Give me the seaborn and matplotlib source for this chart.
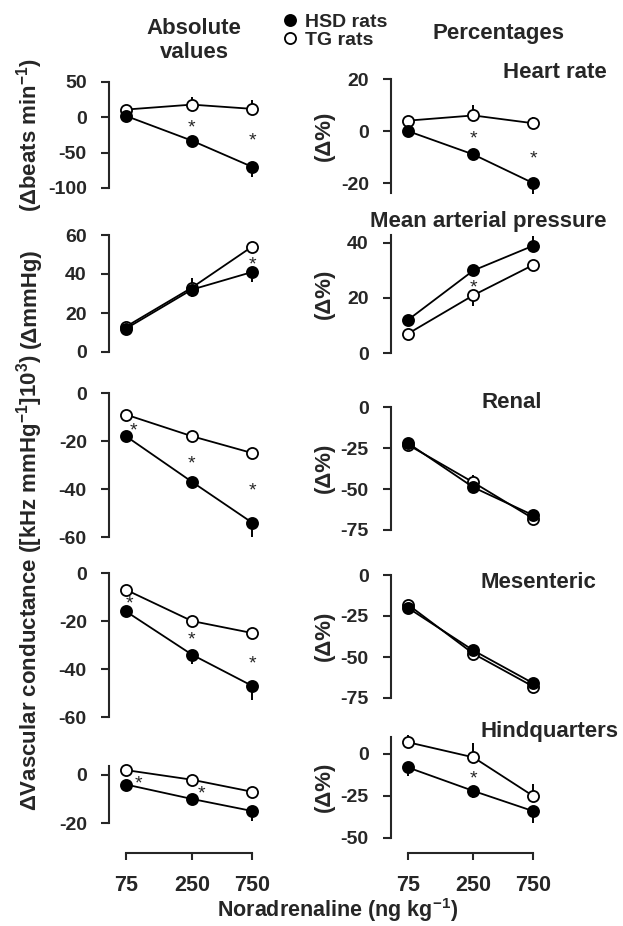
import numpy as np
import pandas as pd
import matplotlib
matplotlib.use("Agg")
import matplotlib.pyplot as plt
import matplotlib.ticker as ticker
import seaborn as sns
from matplotlib.lines import Line2D

doses = [75, 250, 750]
dose_labels = ["75", "250", "750"]

# absolute values (left column)
hr_abs_hsd = [2, -33, -70]
hr_abs_hsd_err = [0, -4, -14]
hr_abs_tg = [11, 18, 12]
hr_abs_tg_err = [0, 11, 12]
map_abs_hsd = [12, 32, 41]
map_abs_hsd_err = [0, -4, -5]
map_abs_tg = [13, 33, 54]
map_abs_tg_err = [0, 5, 0]
renal_abs_hsd = [-18, -37, -54]
renal_abs_hsd_err = [0, -2, -6]
renal_abs_tg = [-9, -18, -25]
renal_abs_tg_err = [0, 2, 0]
mes_abs_hsd = [-16, -34, -47]
mes_abs_hsd_err = [-2, -4, -6]
mes_abs_tg = [-7, -20, -25]
mes_abs_tg_err = [0, 1, 1]
hind_abs_hsd = [-4, -10, -15]
hind_abs_hsd_err = [-1, -1, -4]
hind_abs_tg = [2, -2, -7]
hind_abs_tg_err = [0, 0, 0]

# percentages (right column)
hr_pct_hsd = [0, -9, -20]
hr_pct_hsd_err = [0, 0, -4]
hr_pct_tg = [4, 6, 3]
hr_pct_tg_err = [0, 4, 2.5]
map_pct_hsd = [12, 30, 39]
map_pct_hsd_err = [0, 2, 3.5]
map_pct_tg = [7, 21, 32]
map_pct_tg_err = [0, -4, 0]
renal_pct_hsd = [-22, -49, -66]
renal_pct_hsd_err = [0, -1, 0]
renal_pct_tg = [-23, -46, -68]
renal_pct_tg_err = [0, 4.5, 0]
mes_pct_hsd = [-20, -46, -66]
mes_pct_hsd_err = [0, 0, 0]
mes_pct_tg = [-18, -48, -68]
mes_pct_tg_err = [0, 0, 0]
hind_pct_hsd = [-8, -22, -34]
hind_pct_hsd_err = [-5, -4, -7]
hind_pct_tg = [7, -2, -25]
hind_pct_tg_err = [4, 8.5, 7]

# significance stars (dose, value)
stars_hr_abs = [(250, -9), (750, -28)]
stars_map_abs = [(750, 47)]
stars_renal_abs = [(86, -14), (250, -28), (750, -39)]
stars_mes_abs = [(80, -11), (250, -26), (750, -36)]
stars_hind_abs = [(95, -2), (296, -6)]
stars_hr_pct = [(250, -1.5), (750, -9)]
stars_map_pct = [(250, 25)]
stars_hind_pct = [(250, -12.5)]

sns.set_style("ticks")
plt.rcParams["font.family"] = ["Liberation Sans", "DejaVu Sans"]
plt.rcParams["font.weight"] = "bold"
plt.rcParams["mathtext.default"] = "regular"
plt.rcParams["axes.unicode_minus"] = False

W, H = 623, 926
fig = plt.figure(figsize=(W / 100, H / 100), dpi=100)


def add_box(x0, x1, ytop, ybot):
    return fig.add_axes([x0 / W, 1 - ybot / H, (x1 - x0) / W, (ybot - ytop) / H])


def draw_panel(ax, hsd, hsd_err, tg, tg_err, stars, ylim, yticks):
    ax.set_xscale("log")
    df = pd.DataFrame({"dose": doses * 2, "value": tg + hsd,
                       "group": ["TG rats"] * 3 + ["HSD rats"] * 3})
    for grp, vals, errs, face in [("TG rats", tg, tg_err, "white"),
                                  ("HSD rats", hsd, hsd_err, "black")]:
        ax.vlines(doses, vals, np.add(vals, errs), color="k", lw=1.4,
                  clip_on=False, zorder=2)
        sns.lineplot(data=df[df.group == grp], x="dose", y="value", ax=ax,
                     color="k", marker="o", markerfacecolor=face,
                     markeredgecolor="k", markersize=8, markeredgewidth=1.3,
                     linewidth=1.3, errorbar=None, legend=False,
                     clip_on=False, zorder=3)
    for sx, sy in stars:
        # the asterisk glyph sits high in its box, nudge it down
        ax.annotate("*", (sx, sy), xytext=(0, -3), textcoords="offset points",
                    ha="center", va="center", fontsize=14, fontweight="normal")
    ax.set_xlim(xlim)
    ax.set_ylim(ylim)
    ax.set_yticks(yticks)
    ax.set_xlabel("")
    ax.set_ylabel("")
    ax.xaxis.set_visible(False)
    sns.despine(ax=ax, bottom=True)
    ax.spines["left"].set_linewidth(1.5)
    ax.tick_params(axis="y", direction="out", length=5.5, width=1.5,
                   pad=10.5, labelsize=14)
    ax.patch.set_alpha(0)


xlim = (55, 1141)
left_x = (109, 275)
right_x = (391, 556)

panels = [
    (left_x, (82, 188), hr_abs_hsd, hr_abs_hsd_err, hr_abs_tg, hr_abs_tg_err,
     stars_hr_abs, (-100, 50), [50, 0, -50, -100]),
    (left_x, (235, 352), map_abs_hsd, map_abs_hsd_err, map_abs_tg, map_abs_tg_err,
     stars_map_abs, (0, 60), [0, 20, 40, 60]),
    (left_x, (393, 537), renal_abs_hsd, renal_abs_hsd_err, renal_abs_tg,
     renal_abs_tg_err, stars_renal_abs, (-60, 0), [0, -20, -40, -60]),
    (left_x, (573, 717), mes_abs_hsd, mes_abs_hsd_err, mes_abs_tg, mes_abs_tg_err,
     stars_mes_abs, (-60, 0), [0, -20, -40, -60]),
    (left_x, (766, 823), hind_abs_hsd, hind_abs_hsd_err, hind_abs_tg,
     hind_abs_tg_err, stars_hind_abs, (-20, 3.7), [0, -20]),
    (right_x, (79, 193), hr_pct_hsd, hr_pct_hsd_err, hr_pct_tg, hr_pct_tg_err,
     stars_hr_pct, (-23.8, 20), [20, 0, -20]),
    (right_x, (235, 353), map_pct_hsd, map_pct_hsd_err, map_pct_tg,
     map_pct_tg_err, stars_map_pct, (0, 42.9), [0, 20, 40]),
    (right_x, (407, 530), renal_pct_hsd, renal_pct_hsd_err, renal_pct_tg,
     renal_pct_tg_err, [], (-75, 0), [0, -25, -50, -75]),
    (right_x, (575, 698), mes_pct_hsd, mes_pct_hsd_err, mes_pct_tg,
     mes_pct_tg_err, [], (-75, 0), [0, -25, -50, -75]),
    (right_x, (737, 838), hind_pct_hsd, hind_pct_hsd_err, hind_pct_tg,
     hind_pct_tg_err, stars_hind_pct, (-50, 10.1), [0, -25, -50]),
]

for xs, ys, hsd, hsd_err, tg, tg_err, stars, ylim, yticks in panels:
    ax = add_box(xs[0], xs[1], ys[0], ys[1])
    draw_panel(ax, hsd, hsd_err, tg, tg_err, stars, ylim, yticks)

# shared dose axes at the bottom
for xs in [left_x, right_x]:
    bx = add_box(xs[0], xs[1], 843, 853)
    bx.set_xscale("log")
    bx.set_xlim(xlim)
    bx.set_xticks(doses)
    bx.set_xticklabels(dose_labels)
    bx.xaxis.set_minor_locator(ticker.NullLocator())
    bx.set_yticks([])
    for s in ["left", "top", "right"]:
        bx.spines[s].set_visible(False)
    bx.spines["bottom"].set_bounds(75, 750)
    bx.spines["bottom"].set_linewidth(1.5)
    bx.tick_params(axis="x", direction="out", length=5, width=1.5, pad=11,
                   labelsize=15.5)
    bx.patch.set_alpha(0)

fig.text(338 / W, 1 - 910 / H, "Noradrenaline (ng kg$^{-1}$)", ha="center",
         va="center", fontsize=15.5)

# column headings and panel titles
fig.text(194 / W, 1 - 29 / H, "Absolute", ha="center", va="center", fontsize=16)
fig.text(194 / W, 1 - 53 / H, "values", ha="center", va="center", fontsize=16)
fig.text(499 / W, 1 - 34 / H, "Percentages", ha="center", va="center", fontsize=16)
fig.text(607 / W, 1 - 72 / H, "Heart rate", ha="right", va="center", fontsize=16)
fig.text(607 / W, 1 - 222 / H, "Mean arterial pressure", ha="right",
         va="center", fontsize=16)
fig.text(512 / W, 1 - 402 / H, "Renal", ha="center", va="center", fontsize=16)
fig.text(481 / W, 1 - 582 / H, "Mesenteric", ha="left", va="center", fontsize=16)
fig.text(480 / W, 1 - 732 / H, "Hindquarters", ha="left", va="center", fontsize=16)

# y labels
fig.text(30 / W, 1 - 135 / H, "(\u0394beats min$^{-1}$)", rotation=90,
         ha="center", va="center", fontsize=16)
fig.text(30 / W, 1 - 298 / H, "(\u0394mmHg)", rotation=90, ha="center",
         va="center", fontsize=16)
fig.text(30 / W, 1 - 583 / H, "\u0394Vascular conductance ([kHz mmHg$^{-1}$]10$^{3}$)",
         rotation=90, ha="center", va="center", fontsize=16)
for yc in [136, 294, 468, 636, 787]:
    fig.text(324 / W, 1 - yc / H, "(\u0394%)", rotation=90, ha="center",
             va="center", fontsize=16)

handles = [Line2D([], [], color="k", marker="o", linestyle="none",
                  markerfacecolor="black", markersize=8, markeredgewidth=1.3),
           Line2D([], [], color="k", marker="o", linestyle="none",
                  markerfacecolor="white", markersize=8, markeredgewidth=1.3)]
fig.legend(handles, ["HSD rats", "TG rats"], loc="upper left",
           bbox_to_anchor=(284 / W, 1 - 13 / H), frameon=False, fontsize=14,
           handlelength=0.6, handletextpad=0.5, labelspacing=0.02,
           borderpad=0, borderaxespad=0)

fig.savefig("out.png", dpi=100)
